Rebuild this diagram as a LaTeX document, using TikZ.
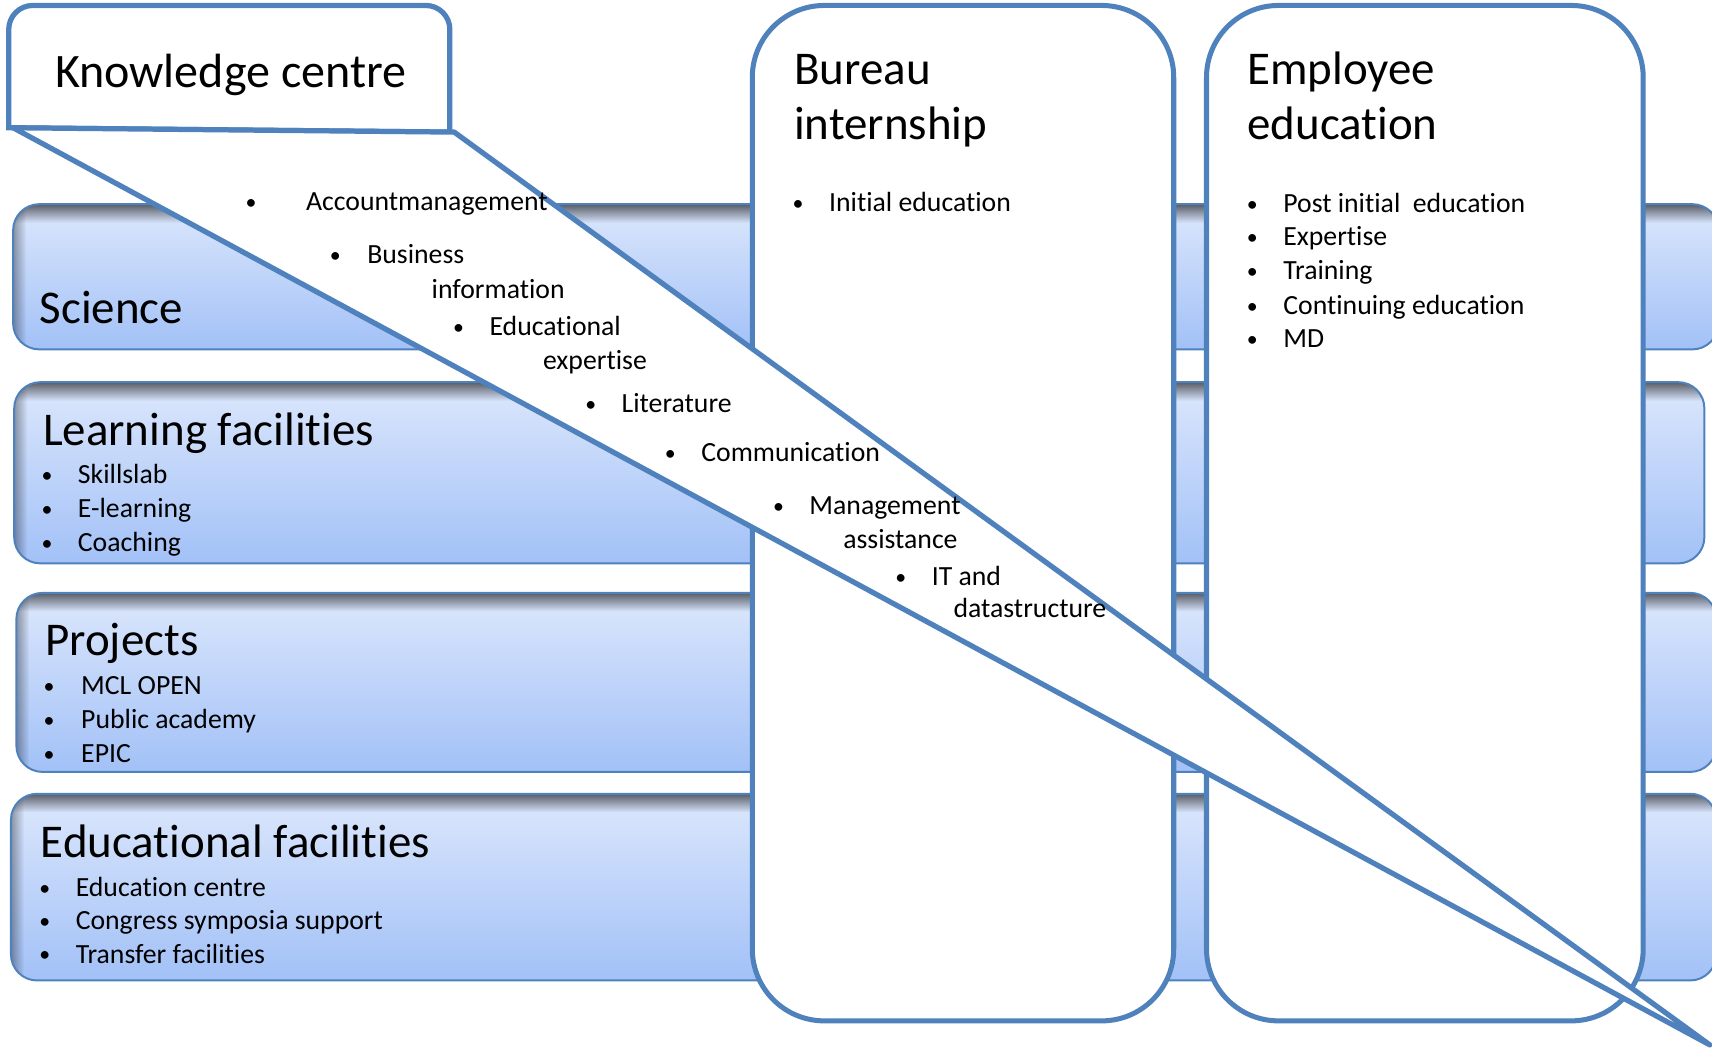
\documentclass[tikz,border=0pt]{standalone}
\usepackage{fontspec}
\setmainfont{Carlito}[Ligatures=NoCommon]
\usetikzlibrary{fadings}
\definecolor{edge}{RGB}{79,129,189}
\definecolor{bartop}{RGB}{220,231,252}
\definecolor{barbot}{RGB}{162,193,247}
\newcommand\drawband[4]{%
  \begin{scope}
    \clip[rounded corners=12pt] (#1,#2) rectangle (#3,#4);
    \shade[top color=bartop,bottom color=barbot] (#1,#2) rectangle (#3,#4);
    \fill[black,opacity=0.6,path fading=south] (#1,#2) rectangle (#3,#2+17);
    \fill[black,opacity=0.35,path fading=east] (#1,#2) rectangle (#1+12,#4);
  \end{scope}
  \draw[bandline,rounded corners=12pt] (#1,#2) rectangle (#3,#4);
}
\newcommand\bitem[5]{%
  \node[bul] (#1b) at (#2,#4-1) {\textbullet};
  \node[itx] (#1) at (#3,#4) {#5};
}
\begin{document}
\begin{tikzpicture}[x=0.5pt,y=-0.5pt,
  bandline/.style={draw=edge,line width=0.9pt},
  column/.style={draw=edge,line width=2.3pt,fill=white,rounded corners=33pt},
  ttl/.style={anchor=base west,inner sep=0pt,font=\fontsize{21.5}{25}\selectfont},
  itx/.style={anchor=base west,inner sep=0pt,font=\fontsize{12.7}{15}\selectfont},
  bul/.style={anchor=base,inner sep=0pt,font=\fontsize{10}{12}\selectfont}]
\useasboundingbox (0,0) rectangle (1568,963);
\fill[white] (0,0) rectangle (1568,963);

% horizontal bands
\drawband{12}{187}{1574}{320}
\drawband{13}{350}{1561}{516}
\drawband{15}{543}{1572}{707}
\drawband{10}{727}{1572}{898}

% columns
\draw[column] (689,5) rectangle (1075,935);
\draw[column] (1105,5) rectangle (1505,935);

% knowledge centre box
\draw[draw=edge,line width=2.4pt,fill=white] (8,117) [rounded corners=11pt] -- (8,5) -- (412,5) [sharp corners] -- (412,121) -- cycle;
\node[ttl,font=\fontsize{22}{26}\selectfont] (kc) at (50,80) {Knowledge centre};

% wedge
\draw[draw=edge,line width=2.4pt,fill=white,line join=round] (12,117) -- (416,121) -- (1566,957) -- cycle;

% titles
\node[ttl] (bur1) at (727,77) {Bureau};
\node[ttl] (bur2) at (727,128) {internship};
\node[ttl] (emp1) at (1142,77) {Employee};
\node[ttl] (emp2) at (1142,128) {education};
\node[ttl] (sci) at (36,296) {Science};
\node[ttl] (lf) at (39,408) {Learning facilities};
\node[ttl] (pr) at (41,600) {Projects};
\node[ttl] (ef) at (37,785) {Educational facilities};

% bureau
\bitem{ini}{731}{759}{194}{Initial education}
% employee
\bitem{pie}{1147}{1175}{195}{Post initial\ \ education}
\bitem{exp}{1147}{1175}{225}{Expertise}
\bitem{tra}{1147}{1175}{256}{Training}
\bitem{con}{1147}{1175}{288}{Continuing education}
\bitem{md}{1147}{1175}{318}{MD}
% learning facilities
\bitem{sk}{43}{71}{443}{Skillslab}
\bitem{el}{43}{71}{474}{E-learning}
\bitem{co}{43}{71}{505}{Coaching}
% projects
\bitem{mcl}{45}{74}{636}{MCL OPEN}
\bitem{pa}{45}{74}{667}{Public academy}
\bitem{ep}{45}{74}{698}{EPIC}
% educational facilities
\bitem{ec}{41}{69}{821}{Education centre}
\bitem{cs}{41}{69}{851}{Congress symposia support}
\bitem{tf}{41}{69}{882}{Transfer facilities}
% wedge items
\bitem{acc}{230}{280}{193}{Accountmanagement}
\bitem{bus}{307}{336}{241}{Business}
\node[itx] (busi) at (395,273) {information};
\bitem{edx}{420}{448}{307}{Educational}
\node[itx] (edxe) at (497,338) {expertise};
\bitem{lit}{541}{569}{378}{Literature}
\bitem{com}{614}{642}{423}{Communication}
\bitem{man}{713}{741}{471}{Management}
\node[itx] (mana) at (772,502) {assistance};
\bitem{it}{825}{853}{536}{IT and}
\node[itx] (itd) at (873,566) {datastructure};
\end{tikzpicture}
\end{document}
